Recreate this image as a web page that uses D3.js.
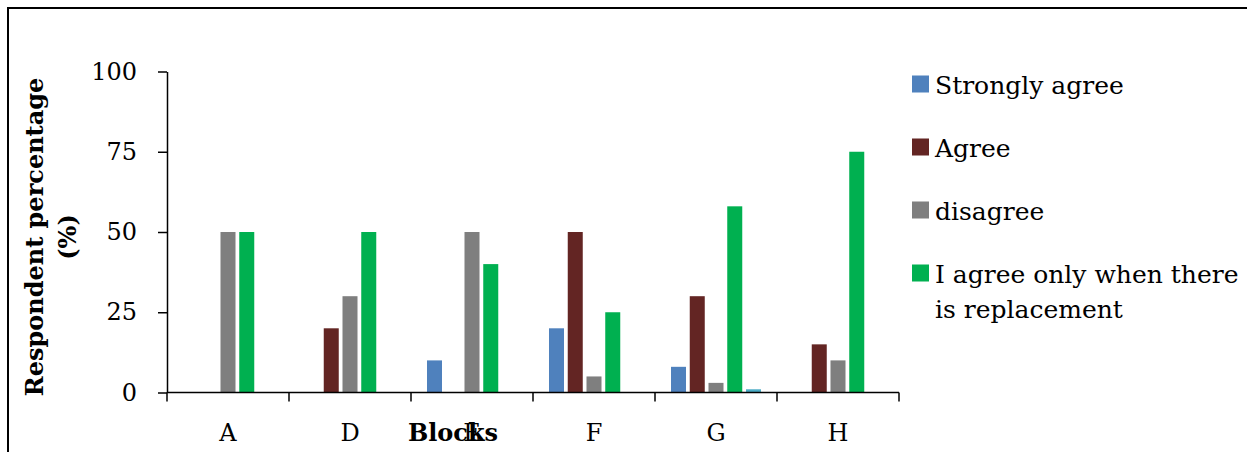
<!DOCTYPE html>
<html>
<head>
<meta charset="utf-8">
<script src="https://cdn.jsdelivr.net/npm/d3@7"></script>
<style>
  html, body { margin: 0; padding: 0; background: #fff; }
  svg { display: block; }
</style>
</head>
<body>
<svg id="chart" width="1247" height="452" font-family="'DejaVu Serif', serif"></svg>
<script>
// Survey blocks
const categories = ["A", "D", "E", "F", "G", "H"];

// Response series (percent of respondents per block)
const stronglyAgree = [0, 0, 10, 20, 8, 0];
const agree         = [0, 20, 0, 50, 30, 15];
const disagree      = [50, 30, 50, 5, 3, 10];
const agreeIfReplacement = [50, 50, 40, 25, 58, 75];
const series5       = [0, 0, 0, 0, 1, 0];

const seriesNames = ["Strongly agree", "Agree", "disagree", "I agree only when there is replacement", "Series5"];
const seriesValues = [stronglyAgree, agree, disagree, agreeIfReplacement, series5];
const seriesColors = ["#4F81BD", "#632523", "#7F7F7F", "#00B050", "#4BACC6"];
const legendSeries = [0, 1, 2, 3];

const yTicks = [0, 25, 50, 75, 100];

const AXIS_FONT = 24;
const LEGEND_FONT = 25;

const svg = d3.select("#chart");

// outer frame (top and left edges visible)
svg.append("path")
  .attr("d", "M8,452 L8,8 L1247,8")
  .attr("fill", "none")
  .attr("stroke", "#000")
  .attr("stroke-width", 2);

const plot = { left: 167, right: 899, top: 71.5, bottom: 392.5 };

const x0 = d3.scaleBand()
  .domain(categories)
  .range([plot.left, plot.right])
  .paddingInner(0)
  .paddingOuter(0);

const x1 = d3.scaleBand()
  .domain(d3.range(seriesNames.length))
  .range([0, x0.bandwidth()])
  .paddingInner(0.2)
  .paddingOuter(0.853);

const y = d3.scaleLinear()
  .domain([0, 100])
  .range([plot.bottom, plot.top]);

// bars
const rows = [];
categories.forEach((c, i) => {
  seriesValues.forEach((vals, s) => {
    rows.push({ cat: c, s: s, v: vals[i] });
  });
});

svg.append("g")
  .selectAll("rect")
  .data(rows.filter(d => d.v > 0))
  .join("rect")
  .attr("x", d => x0(d.cat) + x1(d.s))
  .attr("y", d => y(d.v))
  .attr("width", x1.bandwidth())
  .attr("height", d => y(0) - y(d.v))
  .attr("fill", d => seriesColors[d.s]);

// y axis
const yAxis = svg.append("g")
  .attr("transform", `translate(${plot.left},0)`)
  .call(d3.axisLeft(y).tickValues(yTicks).tickSize(9).tickPadding(21).tickSizeOuter(0));
yAxis.attr("font-family", null);
yAxis.select(".domain").attr("stroke", "#000").attr("stroke-width", 1.5);
yAxis.selectAll(".tick line").attr("stroke", "#000").attr("stroke-width", 1.5);
yAxis.selectAll(".tick text")
  .attr("font-size", AXIS_FONT)
  .attr("fill", "#000");

// x axis: ticks at category boundaries
const boundaries = categories.map(c => x0(c)).concat([plot.right]);
const xAxis = svg.append("g")
  .attr("transform", `translate(0,${plot.bottom})`);
xAxis.append("line")
  .attr("x1", plot.left).attr("x2", plot.right)
  .attr("stroke", "#000").attr("stroke-width", 1.5);
xAxis.selectAll("line.bound")
  .data(boundaries)
  .join("line")
  .attr("class", "bound")
  .attr("x1", d => d).attr("x2", d => d)
  .attr("y1", 0).attr("y2", 9)
  .attr("stroke", "#000").attr("stroke-width", 1.5);
xAxis.selectAll("text")
  .data(categories)
  .join("text")
  .attr("x", d => x0(d) + x0.bandwidth() / 2)
  .attr("y", 48)
  .attr("text-anchor", "middle")
  .attr("font-size", AXIS_FONT)
  .text(d => d);

// axis titles
svg.append("text")
  .attr("x", 453)
  .attr("y", 441)
  .attr("text-anchor", "middle")
  .attr("font-size", AXIS_FONT)
  .attr("font-weight", "bold")
  .text("Blocks");

const yTitle = svg.append("text")
  .attr("transform", "translate(0,237) rotate(-90)")
  .attr("text-anchor", "middle")
  .attr("font-size", AXIS_FONT)
  .attr("font-weight", "bold");
yTitle.append("tspan").attr("x", 0).attr("y", 43).text("Respondent percentage");
yTitle.append("tspan").attr("x", 0).attr("y", 76).text("(%)");

// legend
const legend = svg.append("g").attr("transform", "translate(912,0)");
const legendRowY = [84, 147, 210, 273];
legendSeries.forEach((s, i) => {
  const g = legend.append("g").attr("transform", `translate(0,${legendRowY[i]})`);
  g.append("rect")
    .attr("x", 0).attr("y", -8.5)
    .attr("width", 17).attr("height", 17)
    .attr("fill", seriesColors[s]);
  const t = g.append("text")
    .attr("x", 23).attr("y", 9.5)
    .attr("font-size", LEGEND_FONT);
  if (s === 3) {
    t.append("tspan").attr("x", 23).attr("dy", 0).text("I agree only when there");
    t.append("tspan").attr("x", 23).attr("dy", 35.5).text("is replacement");
  } else {
    t.text(seriesNames[s]);
  }
});
</script>
</body>
</html>
